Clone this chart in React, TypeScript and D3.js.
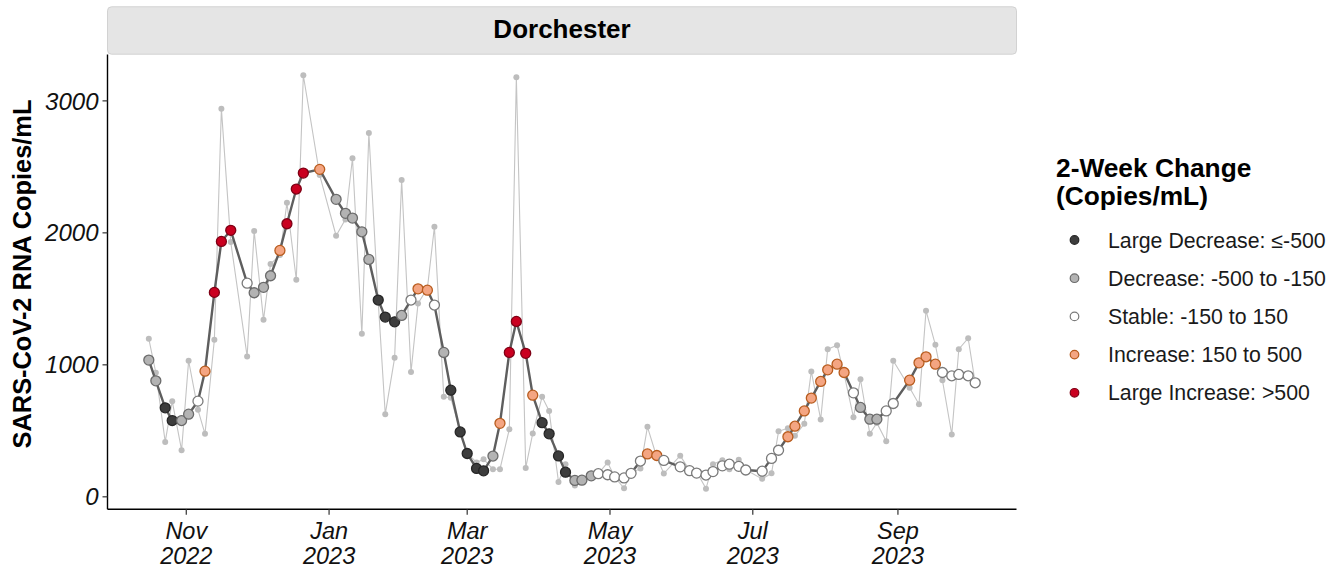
import React from "react";
import * as d3 from "d3";

// Sampling dates (twice weekly) for the Dorchester sewershed
const sampleDates: string[] = [
  "2022-10-16", "2022-10-19", "2022-10-23", "2022-10-26", "2022-10-30", "2022-11-02",
  "2022-11-06", "2022-11-09", "2022-11-13", "2022-11-16", "2022-11-20", "2022-11-27",
  "2022-11-30", "2022-12-04", "2022-12-07", "2022-12-11", "2022-12-14", "2022-12-18",
  "2022-12-21", "2022-12-28", "2023-01-04", "2023-01-08", "2023-01-11", "2023-01-15",
  "2023-01-18", "2023-01-22", "2023-01-25", "2023-01-29", "2023-02-01", "2023-02-05",
  "2023-02-08", "2023-02-12", "2023-02-15", "2023-02-19", "2023-02-22", "2023-02-26",
  "2023-03-01", "2023-03-05", "2023-03-08", "2023-03-12", "2023-03-15", "2023-03-19",
  "2023-03-22", "2023-03-26", "2023-03-29", "2023-04-02", "2023-04-05", "2023-04-09",
  "2023-04-12", "2023-04-16", "2023-04-19", "2023-04-23", "2023-04-26", "2023-04-30",
  "2023-05-03", "2023-05-07", "2023-05-10", "2023-05-14", "2023-05-17", "2023-05-21",
  "2023-05-24", "2023-05-31", "2023-06-04", "2023-06-07", "2023-06-11", "2023-06-14",
  "2023-06-18", "2023-06-21", "2023-06-25", "2023-06-28", "2023-07-05", "2023-07-09",
  "2023-07-12", "2023-07-16", "2023-07-19", "2023-07-23", "2023-07-26", "2023-07-30",
  "2023-08-02", "2023-08-06", "2023-08-09", "2023-08-13", "2023-08-16", "2023-08-20",
  "2023-08-23", "2023-08-27", "2023-08-30", "2023-09-06", "2023-09-10", "2023-09-13",
  "2023-09-17", "2023-09-20", "2023-09-24", "2023-09-27", "2023-10-01", "2023-10-04",
];

// Individual sample results (copies/mL)
const rawValues: number[] = [
  1197, 940, 416, 725, 353, 1031, 659, 477, 1190, 2941, 1930, 1064,
  2014, 1341, 1764, 1832, 2228, 1645, 3194, 2438, 1978, 2102, 2565, 1235,
  2757, 1480, 626, 1053, 2400, 945, 1465, 1580, 2046, 758, 750, 500,
  330, 260, 285, 209, 209, 512, 3179, 219, 480, 758, 651, 113,
  247, 85, 130, 160, 175, 260, 150, 65, 180, 215, 530, 300,
  176, 312, 200, 190, 62, 247, 277, 209, 280, 205, 136, 178,
  496, 520, 462, 553, 950, 586, 1119, 1149, 930, 603, 891, 477,
  560, 421, 1031, 826, 702, 1410, 1152, 884, 472, 1119, 1202, 864,
];

// Smoothed trend (copies/mL)
const smoothValues: number[] = [
  1036, 879, 674, 578, 578, 626, 725, 952, 1549, 1935, 2019, 1619,
  1546, 1587, 1675, 1867, 2069, 2332, 2453, 2481, 2254, 2148, 2112, 2008,
  1799, 1491, 1362, 1326, 1374, 1491, 1576, 1566, 1453, 1094, 808, 492,
  328, 215, 197, 309, 557, 1094, 1329, 1087, 770, 562, 477, 310,
  187, 124, 126, 159, 175, 167, 151, 143, 178, 271, 325, 313,
  276, 227, 198, 180, 165, 191, 235, 247, 231, 203, 194, 291,
  353, 455, 535, 651, 748, 874, 962, 1005, 942, 788, 677, 588,
  588, 651, 707, 884, 1015, 1061, 1005, 942, 917, 927, 917, 864,
];

// 2-week change class of each smoothed point
// LD = large decrease, D = decrease, S = stable, I = increase, LI = large increase
const changeClass: string[] = [
  "D", "D", "LD", "LD", "D", "D", "S", "I", "LI", "LI", "LI", "S",
  "D", "D", "D", "I", "LI", "LI", "LI", "I", "D", "D", "D", "D",
  "D", "LD", "LD", "LD", "D", "S", "I", "I", "S", "D", "LD", "LD",
  "LD", "LD", "LD", "D", "I", "LI", "LI", "LI", "I", "LD", "LD", "LD",
  "LD", "D", "D", "D", "S", "S", "S", "S", "S", "S", "I", "I",
  "S", "S", "S", "S", "S", "S", "S", "S", "S", "S", "S", "S",
  "S", "I", "I", "I", "I", "I", "I", "I", "I", "S", "D", "D",
  "D", "S", "S", "I", "I", "I", "I", "S", "S", "S", "S", "S",
];

const classKeys: string[] = ["LD", "D", "S", "I", "LI"];
const classLabels: string[] = [
  "Large Decrease: \u2264-500",
  "Decrease: -500 to -150",
  "Stable: -150 to 150",
  "Increase: 150 to 500",
  "Large Increase: >500",
];
const classFill: string[] = ["#3d3d3d", "#b3b3b3", "#ffffff", "#f4a582", "#ca0020"];
const classStroke: string[] = ["#262626", "#6b6b6b", "#7a7a7a", "#b85c1e", "#7f0015"];

const xTickDates: string[] = ["2022-11-01", "2023-01-01", "2023-03-01", "2023-05-01", "2023-07-01", "2023-09-01"];
const xTickMonths: string[] = ["Nov", "Jan", "Mar", "May", "Jul", "Sep"];
const xTickYears: string[] = ["2022", "2023", "2023", "2023", "2023", "2023"];
const yTicks: number[] = [0, 1000, 2000, 3000];

const FONT = "'Liberation Sans', Arial, Helvetica, sans-serif";

export default function App() {
  const W = 1338;
  const H = 569;
  const left = 107.5;
  const right = 1016.5;
  const top = 54.6;
  const bottom = 509.3;

  const parse = d3.timeParse("%Y-%m-%d");
  const dates = sampleDates.map((s) => parse(s) as Date);
  const rows = dates.map((d, i) => ({
    date: d,
    raw: rawValues[i],
    smooth: smoothValues[i],
    cls: changeClass[i],
  }));

  // ggplot-style 5% expansion on both axes
  const [d0, d1] = d3.extent(dates) as [Date, Date];
  const span = +d1 - +d0;
  const x = d3
    .scaleTime()
    .domain([new Date(+d0 - span * 0.05), new Date(+d1 + span * 0.05)])
    .range([left, right]);

  const allVals = rawValues.concat(smoothValues);
  const vMin = d3.min(allVals) as number;
  const vMax = d3.max(allVals) as number;
  const vSpan = vMax - vMin;
  const y = d3
    .scaleLinear()
    .domain([vMin - vSpan * 0.05, vMax + vSpan * 0.05])
    .range([bottom, top]);

  const rawLine = d3
    .line<(typeof rows)[number]>()
    .x((d) => x(d.date))
    .y((d) => y(d.raw));
  const smoothLine = d3
    .line<(typeof rows)[number]>()
    .x((d) => x(d.date))
    .y((d) => y(d.smooth));

  const clsIndex = (c: string) => classKeys.indexOf(c);
  const cx = (left + right) / 2;

  const legendX = 1056;
  const legendKeyX = 1074.5;
  const legendTextX = 1108;
  const legendY0 = 240;
  const legendStep = 38.2;

  return (
    <svg
      width={W}
      height={H}
      viewBox={`0 0 ${W} ${H}`}
      style={{ position: "absolute", left: 0, top: 0, background: "#ffffff" }}
      fontFamily={FONT}
    >
      <rect x={0} y={0} width={W} height={H} fill="#ffffff" />

      {/* facet strip */}
      <rect
        x={left}
        y={6.8}
        width={right - left}
        height={top - 7.2}
        rx={4}
        fill="#e5e5e5"
        stroke="#d2d2d2"
        strokeWidth={1}
      />
      <text x={cx} y={37.5} textAnchor="middle" fontSize={26} fontWeight="bold" fill="#000">
        Dorchester
      </text>

      {/* raw samples */}
      <path d={rawLine(rows) || ""} fill="none" stroke="#c4c4c4" strokeWidth={1.1} />
      {rows.map((r, i) => (
        <circle key={`r${i}`} cx={x(r.date)} cy={y(r.raw)} r={3} fill="#bdbdbd" />
      ))}

      {/* smoothed trend */}
      <path d={smoothLine(rows) || ""} fill="none" stroke="#5e5e5e" strokeWidth={2.4} />
      {rows.map((r, i) => {
        const k = clsIndex(r.cls);
        return (
          <circle
            key={`s${i}`}
            cx={x(r.date)}
            cy={y(r.smooth)}
            r={5}
            fill={classFill[k]}
            stroke={classStroke[k]}
            strokeWidth={1.3}
          />
        );
      })}

      {/* axes */}
      <line x1={left} x2={left} y1={top} y2={bottom} stroke="#000" strokeWidth={1.4} />
      <line x1={left} x2={right} y1={bottom} y2={bottom} stroke="#000" strokeWidth={1.4} />

      {yTicks.map((t) => (
        <g key={`yt${t}`}>
          <line x1={left - 5} x2={left} y1={y(t)} y2={y(t)} stroke="#333" strokeWidth={1.2} />
          <text
            x={left - 9}
            y={y(t)}
            dy="0.36em"
            textAnchor="end"
            fontSize={24}
            fontStyle="italic"
            fill="#111"
          >
            {t}
          </text>
        </g>
      ))}

      {xTickDates.map((s, i) => {
        const px = x(parse(s) as Date);
        return (
          <g key={`xt${s}`}>
            <line x1={px} x2={px} y1={bottom} y2={bottom + 5.5} stroke="#333" strokeWidth={1.2} />
            <text x={px} y={539} textAnchor="middle" fontSize={23.5} fontStyle="italic" fill="#111">
              {xTickMonths[i]}
            </text>
            <text x={px} y={564} textAnchor="middle" fontSize={23.5} fontStyle="italic" fill="#111">
              {xTickYears[i]}
            </text>
          </g>
        );
      })}

      {/* y-axis title */}
      <text
        transform={`translate(31, 274) rotate(-90)`}
        textAnchor="middle"
        fontSize={25.4}
        fontWeight="bold"
        fill="#000"
      >
        SARS-CoV-2 RNA Copies/mL
      </text>

      {/* legend */}
      <text x={legendX} y={176.5} fontSize={26.3} fontWeight="bold" fill="#000">
        2-Week Change
      </text>
      <text x={legendX} y={205} fontSize={26.3} fontWeight="bold" fill="#000">
        (Copies/mL)
      </text>
      {classKeys.map((k, i) => {
        const ly = legendY0 + i * legendStep;
        return (
          <g key={`lg${k}`}>
            <circle cx={legendKeyX} cy={ly} r={4.3} fill={classFill[i]} stroke={classStroke[i]} strokeWidth={1.2} />
            <text x={legendTextX} y={ly} dy="0.36em" fontSize={21.3} fill="#1a1a1a">
              {classLabels[i]}
            </text>
          </g>
        );
      })}
    </svg>
  );
}
